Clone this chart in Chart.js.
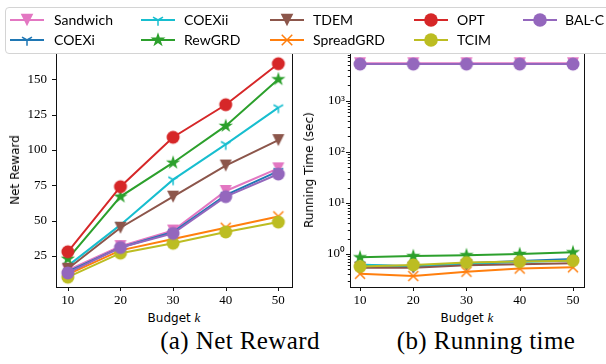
<!DOCTYPE html>
<html>
<head>
<meta charset="utf-8">
<script src="https://cdn.jsdelivr.net/npm/chart.js@4.4.1/dist/chart.umd.min.js"></script>
<style>
body { margin: 0; width: 606px; height: 364px; position: relative; background: #fff; overflow: hidden; }
canvas { position: absolute; }
#legend { position: absolute; left: 5px; top: 7px; width: 640px; height: 45px; border: 1px solid #d4d4d4; border-radius: 4px; background: rgba(255,255,255,0.8); z-index: 5; }
.item { position: absolute; font: 14px Lato, sans-serif; color: #000; white-space: nowrap; }
.lbl { position: absolute; font: 12px "DejaVu Sans", sans-serif; color: #000; white-space: nowrap; transform: translate(-50%, -50%); }
.rot { transform: translate(-50%, -50%) rotate(-90deg); }
.lbl i { font: italic 13px "Liberation Serif", serif; }
.cap { position: absolute; font: 25px "Liberation Serif", serif; letter-spacing: 0.4px; color: #000; white-space: nowrap; transform: translateX(-50%); top: 327px; }
</style>
</head>
<body>
<div id="legend"></div>
<canvas id="reward" width="300" height="270" style="left:0;top:40px"></canvas>
<canvas id="time" width="306" height="270" style="left:300px;top:40px"></canvas>
<div class="lbl rot" style="left:15px;top:170px">Net Reward</div>
<div class="lbl rot" style="left:309px;top:170px">Running Time (sec)</div>
<div class="lbl" style="left:174px;top:318px">Budget <i>k</i></div>
<div class="lbl" style="left:467px;top:318px">Budget <i>k</i></div>
<div class="cap" style="left:240px">(a) Net Reward</div>
<div class="cap" style="left:486px">(b) Running time</div>
<script>
var budgets = [10, 20, 30, 40, 50];
var rewardTicks = [25, 50, 75, 100, 125, 150];
var timeTicks = [1, 10, 100, 1000];
var timeTickLabels = ['10⁰', '10¹', '10²', '10³'];

var names = ['Sandwich', 'COEXi', 'COEXii', 'RewGRD', 'TDEM', 'SpreadGRD', 'OPT', 'TCIM', 'BAL-C'];
var colors = ['#e377c2', '#1f77b4', '#17becf', '#2ca02c', '#8c564b', '#ff7f0e', '#d62728', '#bcbd22', '#9467bd'];
var markers = ['tri', 'y', 'y', 'star', 'tri', 'x', 'circle', 'circle', 'circle'];

// Net reward per method
var sandwichReward  = [15, 32, 43, 71, 87];
var coexiReward     = [14, 31, 42, 68, 85];
var coexiiReward    = [18, 47, 79, 104, 130];
var rewgrdReward    = [23, 67, 91, 117, 150];
var tdemReward      = [16, 45, 67, 89, 107];
var spreadgrdReward = [12, 29, 37, 45, 53];
var optReward       = [28, 74, 109, 132, 161];
var tcimReward      = [10, 27, 34, 42, 49];
var balcReward      = [13, 31, 41, 67, 83];

// Running time (sec) per method
var sandwichTime  = [5400, 5400, 5400, 5400, 5400];
var coexiTime     = [0.60, 0.58, 0.66, 0.73, 0.80];
var coexiiTime    = [0.62, 0.56, 0.64, 0.70, 0.75];
var rewgrdTime    = [0.86, 0.91, 0.95, 1.00, 1.08];
var tdemTime      = [0.54, 0.54, 0.60, 0.63, 0.66];
var spreadgrdTime = [0.41, 0.37, 0.45, 0.52, 0.55];
var optTime       = [null, null, null, null, null];
var tcimTime      = [0.57, 0.61, 0.68, 0.71, 0.74];
var balcTime      = [5200, 5200, 5200, 5200, 5200];

var rewardSeries = [sandwichReward, coexiReward, coexiiReward, rewgrdReward, tdemReward, spreadgrdReward, optReward, tcimReward, balcReward];
var timeSeries = [sandwichTime, coexiTime, coexiiTime, rewgrdTime, tdemTime, spreadgrdTime, optTime, tcimTime, balcTime];

function makeMarker(kind, color, k) {
    var c = document.createElement('canvas');
    c.width = c.height = 22;
    var g = c.getContext('2d');
    var m = 11;
    g.fillStyle = color;
    g.strokeStyle = color;
    g.lineWidth = 1.5;
    g.beginPath();
    if (kind == 'circle') {
        g.arc(m, m, 6.5 * k, 0, Math.PI * 2);
        g.fill();
    } else if (kind == 'tri') {
        var s = 6 * k;
        g.moveTo(m - s, m - s); g.lineTo(m + s, m - s); g.lineTo(m, m + s); g.closePath();
        g.fill();
    } else if (kind == 'star') {
        var R = 7.5 * k, r = R * 0.382;
        for (var i = 0; i < 10; i++) {
            var a = -Math.PI / 2 + i * Math.PI / 5;
            var rr = i % 2 ? r : R;
            g.lineTo(m + rr * Math.cos(a), m + rr * Math.sin(a));
        }
        g.closePath();
        g.fill();
    } else if (kind == 'y') {
        var L = 5.5 * k;
        g.moveTo(m, m); g.lineTo(m, m + L);
        g.moveTo(m, m); g.lineTo(m - 0.866 * L, m - 0.5 * L);
        g.moveTo(m, m); g.lineTo(m + 0.866 * L, m - 0.5 * L);
        g.stroke();
    } else if (kind == 'x') {
        var d = 5 * k;
        g.moveTo(m - d, m - d); g.lineTo(m + d, m + d);
        g.moveTo(m - d, m + d); g.lineTo(m + d, m - d);
        g.stroke();
    }
    return c;
}

// legend (column major, 5 columns)
var legendLine = [4, 135, 264, 408, 517];
var legendText = [48, 178, 307, 451, 559];
var legendRow = [12, 32];
var legendBox = document.getElementById('legend');
names.forEach(function (n, i) {
    var col = Math.floor(i / 2), row = i % 2;
    var c = document.createElement('canvas');
    c.width = 34; c.height = 22;
    c.style.left = legendLine[col] + 'px';
    c.style.top = (legendRow[row] - 11) + 'px';
    var g = c.getContext('2d');
    g.strokeStyle = colors[i];
    g.lineWidth = 2;
    g.beginPath(); g.moveTo(0, 11); g.lineTo(34, 11); g.stroke();
    g.drawImage(makeMarker(markers[i], colors[i], 1.05), 6, 0);
    legendBox.appendChild(c);
    var t = document.createElement('div');
    t.className = 'item';
    t.textContent = n;
    t.style.left = legendText[col] + 'px';
    t.style.top = (legendRow[row] - 9) + 'px';
    legendBox.appendChild(t);
});

var frame = {
    id: 'frame',
    afterDraw: function (chart) {
        var a = chart.chartArea, g = chart.ctx;
        g.save();
        g.strokeStyle = '#111';
        g.lineWidth = 1;
        g.strokeRect(Math.round(a.left) + 0.5, Math.round(a.top) + 0.5, Math.round(a.right - a.left), Math.round(a.bottom - a.top));
        var xs = chart.scales.x, ys = chart.scales.y;
        g.beginPath();
        xs.ticks.forEach(function (t) {
            var px = Math.round(xs.getPixelForValue(t.value)) + 0.5;
            g.moveTo(px, a.bottom); g.lineTo(px, a.bottom + 4);
        });
        ys.ticks.forEach(function (t) {
            var py = Math.round(ys.getPixelForValue(t.value)) + 0.5;
            var len = t.major ? 4 : 2.2;
            g.moveTo(a.left, py); g.lineTo(a.left - len, py);
        });
        g.stroke();
        g.restore();
    }
};

function makeChart(id, series, yOpts, xMin, xMax, yWidth, padRight) {
    var datasets = names.map(function (n, i) {
        var img = makeMarker(markers[i], colors[i], 1);
        return {
            label: n,
            data: series[i],
            borderColor: colors[i],
            backgroundColor: colors[i],
            borderWidth: 2,
            pointStyle: img,
            pointRadius: 6,
            clip: false,
            order: names.length - i
        };
    });
    return new Chart(document.getElementById(id), {
        type: 'line',
        data: { labels: budgets, datasets: datasets },
        options: {
            responsive: false,
            animation: false,
            events: [],
            layout: { padding: { top: 13, right: padRight, left: 0, bottom: 0 } },
            plugins: { legend: { display: false }, tooltip: { enabled: false } },
            scales: {
                x: {
                    type: 'linear', min: xMin, max: xMax,
                    afterBuildTicks: function (s) { s.ticks = budgets.map(function (v) { return { value: v, major: true }; }); },
                    afterFit: function (s) { s.height = 23; },
                    grid: { drawOnChartArea: false, tickLength: 4, tickColor: 'rgba(0,0,0,0)' },
                    border: { display: false },
                    ticks: { color: '#000', padding: 2, font: { family: 'Liberation Serif', size: 13 }, maxRotation: 0 }
                },
                y: Object.assign({
                    afterFit: function (s) { s.width = yWidth; },
                    grid: { drawOnChartArea: false, tickLength: 4, tickColor: 'rgba(0,0,0,0)' },
                    border: { display: false }
                }, yOpts)
            }
        },
        plugins: [frame]
    });
}

makeChart('reward', rewardSeries, {
    type: 'linear', min: 3.07, max: 168.6,
    afterBuildTicks: function (s) { s.ticks = rewardTicks.map(function (v) { return { value: v, major: true }; }); },
    ticks: { color: '#000', padding: 5, font: { family: 'Liberation Serif', size: 13 } }
}, 7.75, 52.6, 56, 7);

makeChart('time', timeSeries, {
    type: 'logarithmic', min: 0.226, max: 8570,
    afterBuildTicks: function (s) {
        var list = [];
        [0.1, 1, 10, 100, 1000].forEach(function (base) {
            for (var m = 1; m < 10; m++) {
                var v = m * base;
                if (v >= 0.226 && v <= 8570) list.push({ value: v, major: m == 1 });
            }
        });
        s.ticks = list;
    },
    ticks: {
        color: '#000', padding: 1, autoSkip: false,
        font: { family: 'Liberation Serif', size: 13 },
        callback: function (v) { var i = timeTicks.indexOf(v); return i < 0 ? '' : timeTickLabels[i]; }
    }
}, 8.12, 52.07, 50, 22);
</script>
</body>
</html>
